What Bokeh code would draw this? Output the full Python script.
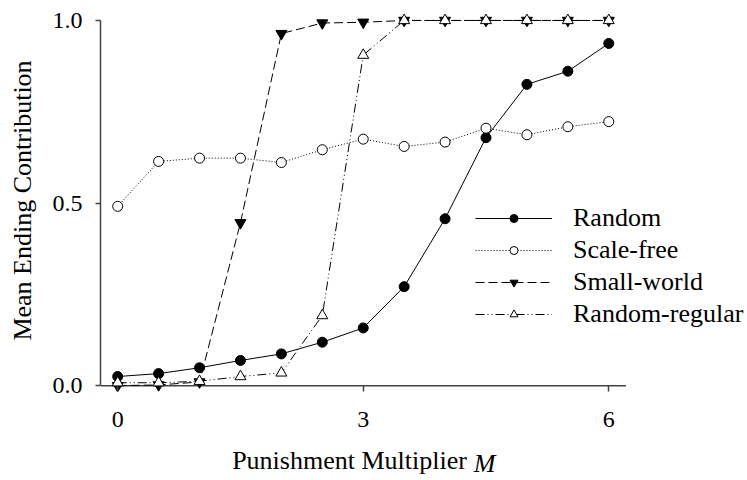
from bokeh.plotting import figure
from bokeh.models import (Range1d, FixedTicker, PrintfTickFormatter, Legend,
                          LegendItem, LinearAxis)
from bokeh.embed import file_html
from bokeh.resources import INLINE

# Punishment multiplier M
multiplier = [0, 0.5, 1, 1.5, 2, 2.5, 3, 3.5, 4, 4.5, 5, 5.5, 6]

# Mean ending contribution for each network type
random_net = [0.025, 0.033, 0.049, 0.069, 0.087, 0.119, 0.158, 0.271, 0.457,
              0.679, 0.825, 0.861, 0.937]
scale_free = [0.491, 0.614, 0.623, 0.623, 0.611, 0.646, 0.675, 0.655, 0.667,
              0.705, 0.687, 0.709, 0.723]
small_world = [0.0, 0.002, 0.01, 0.446, 0.964, 0.993, 0.995, 1.0, 1.0, 1.0,
               1.0, 1.0, 1.0]
random_regular = [0.008, 0.008, 0.012, 0.025, 0.035, 0.192, 0.905, 1.0, 1.0,
                  1.0, 1.0, 1.0, 1.0]

x_ticks = [0, 3, 6]
y_ticks = [0.0, 0.5, 1.0]

FONT = "Liberation Serif"
AXIS_COLOR = "#444444"
X_LO, X_HI = -0.21, 6.21      # extent of the drawn x axis line
FRAME_W = 647                 # frame width in pixels (used for title placement)

p = figure(width=747, height=480, output_backend="svg", toolbar_location=None,
           x_range=Range1d(X_LO, 7.695), y_range=Range1d(-0.016, 1.03),
           min_border_left=100, min_border_right=0, min_border_top=9,
           min_border_bottom=87)
p.outline_line_color = None
p.xgrid.visible = False
p.ygrid.visible = False
p.background_fill_color = "white"
p.border_fill_color = "white"
p.extra_x_ranges = {"px": Range1d(0, FRAME_W)}

# y axis
yax = p.yaxis[0]
yax.ticker = FixedTicker(ticks=y_ticks)
yax.formatter = PrintfTickFormatter(format="%.1f")
yax.bounds = (0, 1)
yax.axis_line_color = AXIS_COLOR
yax.axis_line_width = 1.5
yax.major_tick_line_color = AXIS_COLOR
yax.major_tick_line_width = 1.5
yax.major_tick_in = 0
yax.major_tick_out = 5
yax.minor_tick_line_color = None
yax.major_label_text_font = FONT
yax.major_label_text_font_size = "24px"
yax.major_label_text_color = "black"
yax.major_label_standoff = 13
yax.axis_label = "Mean Ending Contribution"
yax.axis_label_text_font = FONT
yax.axis_label_text_font_size = "26px"
yax.axis_label_text_font_style = "normal"
yax.axis_label_text_color = "black"
yax.axis_label_standoff = 13

# x axis: ticks rise from the frame edge up to the y = 0 line
xax = p.xaxis[0]
xax.ticker = FixedTicker(ticks=x_ticks)
xax.bounds = (X_LO, X_HI)
xax.axis_line_color = None
xax.major_tick_line_color = AXIS_COLOR
xax.major_tick_line_width = 1.5
xax.major_tick_in = 6
xax.major_tick_out = 0
xax.minor_tick_line_color = None
xax.major_label_text_font = FONT
xax.major_label_text_font_size = "24px"
xax.major_label_text_color = "black"
xax.major_label_standoff = 20


def title_axis(pos, text, style, standoff):
    """Bare axis carrying one piece of the x axis title."""
    ax = LinearAxis(x_range_name="px", ticker=FixedTicker(ticks=[pos]),
                    major_label_overrides={pos: text})
    ax.axis_line_color = None
    ax.major_tick_line_color = None
    ax.minor_tick_line_color = None
    ax.major_tick_in = 0
    ax.major_tick_out = 0
    ax.major_label_text_font = FONT
    ax.major_label_text_font_size = "26px"
    ax.major_label_text_font_style = style
    ax.major_label_text_color = "black"
    ax.major_label_standoff = standoff
    p.add_layout(ax, "below")


title_axis(249, "Punishment Multiplier", "normal", 16)
title_axis(384, "M", "italic", -29)

# horizontal axis line at y = 0
p.segment(x0=[X_LO], y0=[0], x1=[X_HI], y1=[0], line_color=AXIS_COLOR,
          line_width=1.5)

# series
r1l = p.line(multiplier, random_net, line_color="black", line_width=1)
r1m = p.scatter(multiplier, random_net, marker="circle", size=10,
                fill_color="black", line_color="black")

r2l = p.line(multiplier, scale_free, line_color="black", line_width=1,
             line_dash="1 2")
r2m = p.scatter(multiplier, scale_free, marker="circle", size=10,
                fill_color="white", line_color="black")

r3l = p.line(multiplier, small_world, line_color="black", line_width=1,
             line_dash="9 4")
r3m = p.scatter(multiplier, small_world, marker="inverted_triangle", size=11,
                fill_color="black", line_color="black")

r4l = p.line(multiplier, random_regular, line_color="black", line_width=1,
             line_dash="9 3 1 3 1 3")
r4m = p.scatter(multiplier, random_regular, marker="triangle", size=11,
                fill_color="white", line_color="black")

legend = Legend(items=[
    LegendItem(label="Random", renderers=[r1l, r1m]),
    LegendItem(label="Scale-free", renderers=[r2l, r2m]),
    LegendItem(label="Small-world", renderers=[r3l, r3m]),
    LegendItem(label="Random-regular", renderers=[r4l, r4m]),
], location=(375, 62), orientation="vertical", glyph_width=77,
    glyph_height=20, label_height=20, label_standoff=21, spacing=2,
    padding=0, margin=0, border_line_color=None, background_fill_alpha=0,
    label_text_font=FONT, label_text_font_size="26px",
    label_text_color="black")
p.add_layout(legend)

open("out.html", "w").write(file_html(p, INLINE))
